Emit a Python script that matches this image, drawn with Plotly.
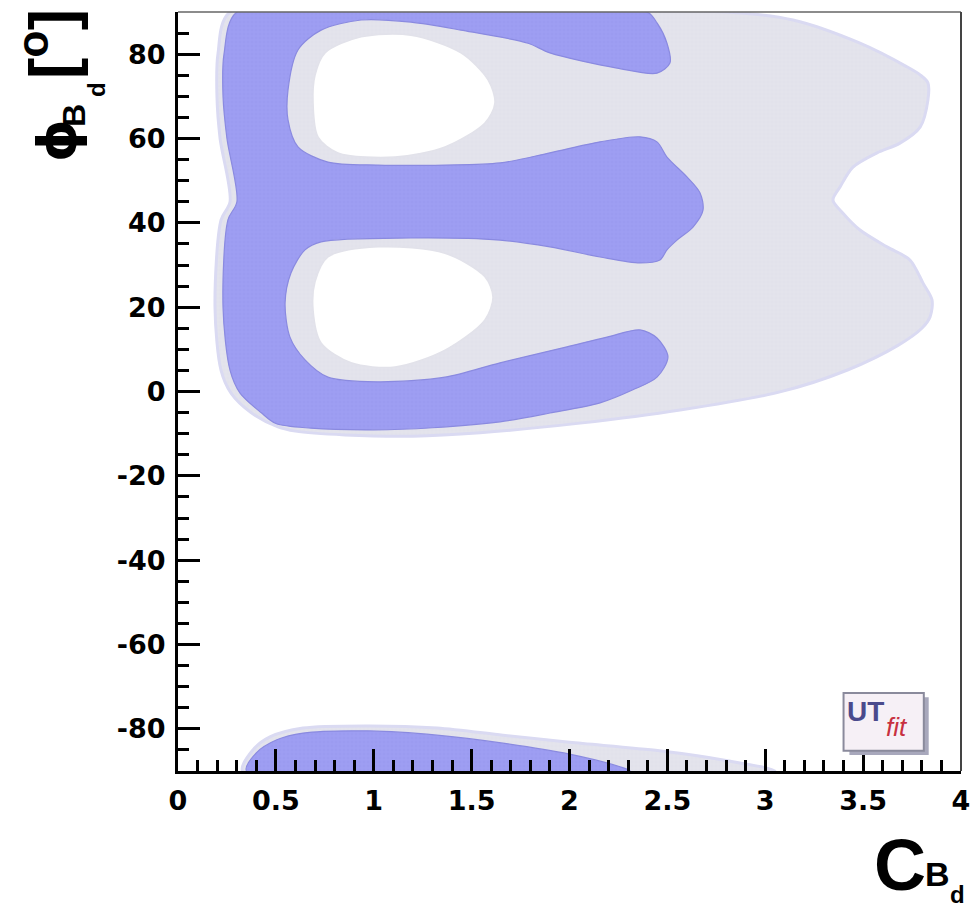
import plotly.graph_objects as go

# ---------------- data ----------------
# 95% probability region (light gray), main lobe
c95_main_x = [0.266, 1.5, 2.805, 3.142, 3.484, 3.724, 3.791, 3.831, 3.831, 3.791, 3.688, 3.571,
              3.448, 3.382, 3.346, 3.397, 3.484, 3.622, 3.739, 3.806, 3.852, 3.842, 3.80,
              3.68, 3.42, 3.075, 2.565, 2.054, 1.543, 1.2, 0.853, 0.6, 0.511, 0.373, 0.271,
              0.22, 0.189, 0.22, 0.266, 0.215, 0.199, 0.204]
c95_main_y = [90.0, 90.0, 90.0, 88.1, 82.6, 77.0, 75.1, 73.2, 69.1, 62.7, 58.9, 56.6,
              53.2, 48.5, 45.4, 42.3, 38.3, 34.3, 31.2, 25.7, 21.7, 17.7, 15.0,
              11.0, 5.1, -0.1, -4.4, -7.5, -9.8, -10.6, -10.3, -9.4, -8.4, -5.0, -0.4,
              5.0, 20.0, 40.7, 45.0, 60.0, 70.0, 80.0]

# 95% region, lower sliver near -90 deg
c95_low_x = [0.33, 0.383, 0.47, 0.639, 0.981, 1.323, 1.66, 2.0, 2.46, 2.8, 3.05]
c95_low_y = [-90.0, -85.0, -81.9, -79.8, -79.3, -79.8, -81.5, -83.2, -85.2, -87.5, -90.0]

# 68% probability region (blue), main "E" shaped lobe
c68_main_x = [0.301, 1.3, 2.396, 2.447, 2.498, 2.513, 2.447, 2.243, 1.90, 1.788, 1.446, 1.19,
              0.935, 0.731, 0.613, 0.562, 0.562, 0.613, 0.766, 1.022, 1.364, 1.645, 1.90,
              2.156, 2.36, 2.447, 2.498, 2.60, 2.667, 2.682, 2.631, 2.549, 2.498, 2.462,
              2.36, 2.156, 1.90, 1.645, 1.19, 0.731, 0.649, 0.577, 0.547, 0.572, 0.649,
              0.766, 1.022, 1.364, 1.645, 1.987, 2.192, 2.36, 2.447, 2.503, 2.447, 2.324,
              2.156, 1.90, 1.645, 1.3, 1.0, 0.68, 0.5, 0.424, 0.317, 0.266, 0.230, 0.255,
              0.301, 0.250, 0.230, 0.235]
c68_main_y = [90.0, 90.0, 90.0, 87.4, 82.6, 77.9, 75.5, 76.7, 80.3, 82.6, 85.7, 87.6,
              88.1, 85.7, 81.0, 71.5, 64.4, 58.0, 54.4, 53.7, 53.7, 54.2, 56.6,
              59.2, 60.4, 59.2, 55.6, 50.9, 47.1, 43.0, 39.0, 35.9, 33.6, 31.2,
              30.5, 31.9, 34.3, 35.9, 36.4, 35.5, 33.6, 28.1, 21.0, 12.9, 7.5,
              3.4, 2.3, 3.4, 6.8, 10.6, 12.9, 14.6, 12.7, 8.2, 3.4, 0.4,
              -2.7, -5.1, -7.2, -8.6, -9.1, -8.7, -7.6, -5.0, -0.4, 5.0, 20.0, 40.7,
              45.0, 60.0, 70.0, 80.0]

# 68% region, lower sliver near -90 deg
c68_low_x = [0.35, 0.40, 0.505, 0.639, 0.981, 1.323, 1.66, 2.0, 2.258, 2.31]
c68_low_y = [-90.0, -85.7, -82.6, -81.0, -80.5, -81.5, -83.4, -86.0, -89.0, -90.0]

# excluded islands inside the 95% region
hole_up_x = [0.69, 0.70, 0.751, 0.935, 1.19, 1.446, 1.584, 1.619, 1.568, 1.364, 1.109, 0.817, 0.715]
hole_up_y = [68.4, 75.0, 80.3, 84.1, 84.5, 80.3, 73.9, 68.4, 63.7, 58.0, 55.6, 56.6, 60.4]
hole_lo_x = [0.69, 0.70, 0.766, 1.022, 1.364, 1.568, 1.609, 1.568, 1.364, 1.109, 0.884, 0.731]
hole_lo_y = [19.3, 26.0, 31.9, 34.3, 32.8, 27.2, 22.4, 17.0, 9.8, 5.8, 6.8, 11.5]

x_tick_vals = [0, 0.5, 1, 1.5, 2, 2.5, 3, 3.5, 4]
x_tick_text = ["0", "0.5", "1", "1.5", "2", "2.5", "3", "3.5", "4"]
y_tick_vals = [-80, -60, -40, -20, 0, 20, 40, 60, 80]
y_tick_text = ["-80", "-60", "-40", "-20", "0", "20", "40", "60", "80"]

# ---------------- styles ----------------
GRAY = "#e4e4ec"
GRAY_EDGE = "#dadaf2"
BLUE = "#9e9ef2"
BLUE_EDGE = "#8a8ae0"


def region(xs, ys, fill, edge, width, pat=None):
    tr = go.Scatter(
        x=list(xs) + [xs[0]], y=list(ys) + [ys[0]],
        mode="lines", fill="toself", fillcolor=fill,
        line=dict(color=edge, width=width, shape="spline", smoothing=0.85),
        hoverinfo="skip", showlegend=False,
    )
    if pat is not None:
        tr.fillpattern = dict(shape="+", size=4, solidity=0.12, fgcolor=pat,
                              bgcolor=fill, fgopacity=0.35)
    return tr


fig = go.Figure()
fig.add_trace(region(c95_main_x, c95_main_y, GRAY, GRAY_EDGE, 3, "#c8c8d4"))
fig.add_trace(region(c95_low_x, c95_low_y, GRAY, GRAY_EDGE, 3, "#c8c8d4"))
fig.add_trace(region(c68_main_x, c68_main_y, BLUE, BLUE_EDGE, 1.2, "#7a7ad8"))
fig.add_trace(region(c68_low_x, c68_low_y, BLUE, BLUE_EDGE, 1.2, "#7a7ad8"))
fig.add_trace(region(hole_up_x, hole_up_y, "#ffffff", "#e2e2ea", 1.5))
fig.add_trace(region(hole_lo_x, hole_lo_y, "#ffffff", "#e2e2ea", 1.5))

TICKFONT = dict(family="DejaVu Sans", size=27, color="black", weight="bold")

fig.update_layout(
    width=972, height=907,
    margin=dict(l=178, r=11, t=12, b=136, pad=0),
    plot_bgcolor="white", paper_bgcolor="white",
    showlegend=False,
    xaxis=dict(
        range=[0, 4], tickvals=x_tick_vals, ticktext=x_tick_text,
        ticks="inside", ticklen=22, tickwidth=2.5, tickcolor="black",
        minor=dict(dtick=0.1, tick0=0, ticks="inside", ticklen=11, tickwidth=2.5, tickcolor="black"),
        showline=True, linecolor="black", linewidth=3,
        showgrid=False, zeroline=False, tickfont=TICKFONT, ticklabelstandoff=4,
        layer="above traces", automargin=False,
    ),
    yaxis=dict(
        range=[-90, 90], tickvals=y_tick_vals, ticktext=y_tick_text,
        ticks="inside", ticklen=22, tickwidth=2.5, tickcolor="black",
        minor=dict(dtick=5, tick0=0, ticks="inside", ticklen=11, tickwidth=2.5, tickcolor="black"),
        showline=True, linecolor="black", linewidth=3,
        showgrid=False, zeroline=False, tickfont=TICKFONT, ticklabelstandoff=4,
        layer="above traces", automargin=False,
    ),
)

# frame: thin top and right lines
fig.add_shape(type="line", xref="paper", yref="paper", x0=0, x1=1, y0=1, y1=1,
              line=dict(color="#666666", width=1.5), layer="above")
fig.add_shape(type="line", xref="paper", yref="paper", x0=1, x1=1, y0=0, y1=1,
              line=dict(color="#444444", width=2), layer="above")

# UTfit logo box
fig.add_shape(type="rect", xref="x", yref="y", x0=3.43, x1=3.835, y0=-86.2, y1=-72.5,
              fillcolor="#a8a8bc", line=dict(width=0), layer="above")
fig.add_shape(type="rect", xref="x", yref="y", x0=3.40, x1=3.81, y0=-85.2, y1=-71.5,
              fillcolor="#f6f0f6", line=dict(color="#8a8a9c", width=2), layer="above")
fig.add_annotation(x=3.51, y=-75.8, xref="x", yref="y", text="<b>UT</b>", showarrow=False,
                   xanchor="center", yanchor="middle",
                   font=dict(family="Liberation Sans", size=28, color="#4a4a8c"))
fig.add_annotation(x=3.675, y=-79.6, xref="x", yref="y", text="<i>fit</i>", showarrow=False,
                   xanchor="center", yanchor="middle",
                   font=dict(family="Liberation Sans", size=26, color="#c83040"))

# axis titles (pixel layout positions converted to paper fractions)
W0, W1, H0, H1 = 178.0, 961.0, 12.0, 771.0


def px(xp):
    return (xp - W0) / (W1 - W0)


def py(yp):
    return (H1 - yp) / (H1 - H0)


TF = "Liberation Sans"


def title_piece(xp, yp, text, size, angle=0, family=TF):
    fig.add_annotation(x=px(xp), y=py(yp), xref="paper", yref="paper", text=text,
                       textangle=angle, showarrow=False, xanchor="center", yanchor="middle",
                       borderpad=0, font=dict(family=family, size=size, color="black"))


title_piece(900, 865, "<b>C</b>", 72)
title_piece(937, 874, "<b>B</b>", 34)
title_piece(957, 894, "<b>d</b>", 24)

title_piece(57, 141, "<b>ϕ</b>", 54, -90, "DejaVu Sans")
title_piece(74, 116, "<b>B</b>", 32, -90)
title_piece(97, 90, "<b>d</b>", 24, -90)
title_piece(48, 44, "<b>[<sup>o</sup>]</b>", 64, -90)

fig.write_html("out.html")
